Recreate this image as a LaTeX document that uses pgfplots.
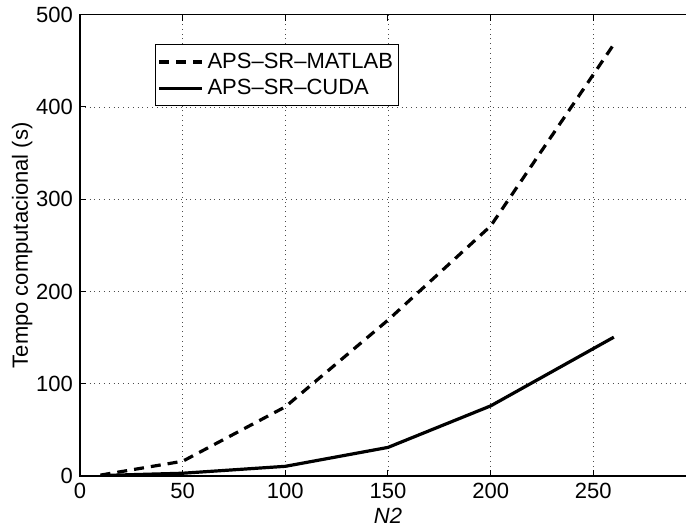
\documentclass[border=0pt]{standalone}
\usepackage{pgfplots}
\pgfplotsset{compat=1.18}
\usepackage{fontspec}
\setmainfont{Liberation Sans}
\begin{document}
\begin{tikzpicture}
\begin{axis}[
  at={(0,0)}, anchor=south west,
  scale only axis,
  width=308pt, height=230.65pt,
  xmin=0, xmax=300, ymin=0, ymax=500,
  xtick={0,50,100,150,200,250,300},
  xticklabels={0,50,100,150,200,250,},
  ytick={0,100,200,300,400,500},
  /pgf/number format/assume math mode=true,
  tick label style={font=\fontsize{11}{13}\selectfont},
  label style={font=\fontsize{11}{13}\selectfont},
  xlabel={\textit{N2}},
  ylabel={Tempo computacional (s)},
  xlabel style={yshift=2pt},
  ylabel style={yshift=-5pt},
  xmajorgrids, ymajorgrids,
  grid style={black!70, line width=0.4pt, dotted},
  tick align=inside,
  major tick length=3pt,
  tick style={black, line width=0.5pt},
  axis line style={black, line width=0.6pt},
  legend style={at={(0.122,0.936)}, anchor=north west, draw=black, line width=0.5pt,
    font=\fontsize{11}{13}\selectfont, inner xsep=1pt, inner ysep=2pt, row sep=0pt},
  legend cell align=left,
  legend image code/.code={\draw[#1] (0cm,0cm) -- (0.75cm,0cm);},
]
\addplot[black, line width=1.6pt, dash pattern=on 5pt off 3.5pt] coordinates {
  (10,1) (50,16) (100,75) (150,169) (200,271) (260,468)
};
\addlegendentry{APS--SR--MATLAB}
\addplot[black, line width=1.6pt] coordinates {
  (10,0.5) (50,3) (100,10.5) (150,31) (200,76) (260,150.5)
};
\addlegendentry{APS--SR--CUDA}
\end{axis}
\pgfresetboundingbox
\path[use as bounding box] (-40pt,-25.5pt) rectangle (303pt,238pt);
\end{tikzpicture}
\end{document}
